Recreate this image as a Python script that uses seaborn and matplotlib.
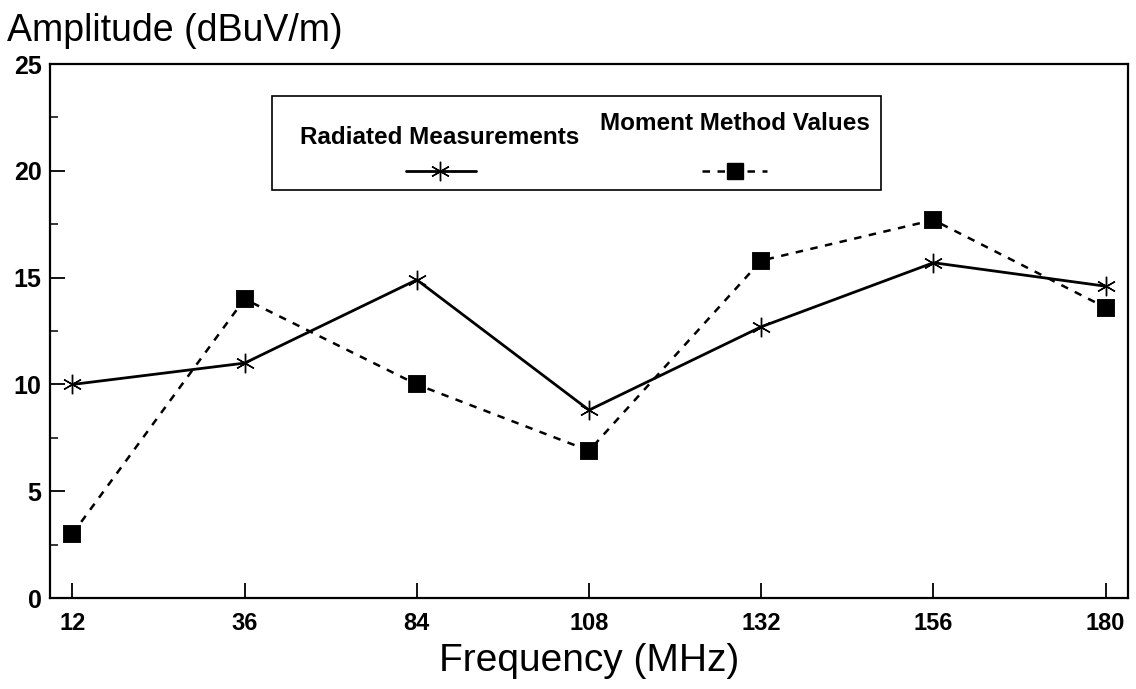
import pandas as pd
import matplotlib.pyplot as plt
import matplotlib.ticker as mticker
from matplotlib.lines import Line2D
from matplotlib.patches import Rectangle
import seaborn as sns

# Values
frequencies = ["12", "36", "84", "108", "132", "156", "180"]
radiated = [10.0, 11.0, 14.9, 8.8, 12.7, 15.7, 14.6]
moment = [3.0, 14.0, 10.0, 6.9, 15.8, 17.7, 13.6]
series_names = ["Radiated Measurements", "Moment Method Values"]

sns.set_theme(style="ticks")
plt.rcParams['font.family'] = ['Liberation Sans', 'DejaVu Sans']
plt.rcParams['text.color'] = 'black'

df = pd.DataFrame({
    'Frequency': frequencies * 2,
    'Amplitude': radiated + moment,
    'Series': [series_names[0]] * len(radiated) + [series_names[1]] * len(moment),
})

fig = plt.figure(figsize=(11.36, 6.89), dpi=100)
ax = fig.add_axes([0.044, 0.132, 0.949, 0.775])

star = (6, 2, 0)
star_size = 14
square_size = 12
sns.pointplot(data=df[df['Series'] == series_names[0]], x='Frequency', y='Amplitude',
              order=frequencies, color='black', marker=star, markersize=star_size,
              linestyle='-', linewidth=2.0, errorbar=None, ax=ax)
sns.pointplot(data=df[df['Series'] == series_names[1]], x='Frequency', y='Amplitude',
              order=frequencies, color='black', marker='s', markersize=square_size,
              linestyle=(0, (3, 3)), linewidth=1.8, errorbar=None, ax=ax)

# asterisks thinner strokes
for line in ax.lines:
    if line.get_marker() == star:
        line.set_markeredgewidth(1.0)

ax.set_xlim(-0.13, 6.13)
ax.set_ylim(0, 25)
ax.yaxis.set_major_locator(mticker.MultipleLocator(5))
ax.yaxis.set_minor_locator(mticker.MultipleLocator(2.5))
ax.tick_params(axis='both', which='major', direction='in', length=11, width=1.3,
               labelsize=17, colors='black')
ax.tick_params(axis='y', which='minor', direction='in', length=6, width=1.3)
ax.tick_params(axis='y', labelsize=18)
for lbl in ax.get_xticklabels() + ax.get_yticklabels():
    lbl.set_fontweight('bold')
ax.tick_params(axis='x', pad=10)
ax.tick_params(axis='y', pad=6)

for sp in ax.spines.values():
    sp.set_visible(True)
    sp.set_color('black')
    sp.set_linewidth(1.6)

ax.set_xlabel('Frequency (MHz)', fontsize=28, labelpad=6, color='black')
ax.set_ylabel('')
fig.text(0.006, 0.955, 'Amplitude (dBuV/m)', fontsize=27, ha='left', va='center',
         color='black')

# legend box: titles above their line samples
ax.add_patch(Rectangle((0.206, 0.765), 0.565, 0.176, transform=ax.transAxes,
                       fill=False, edgecolor='black', linewidth=1.2, zorder=5))
ax.text(0.361, 0.862, series_names[0], transform=ax.transAxes, fontsize=17.5,
        fontweight='bold', ha='center', va='center')
ax.text(0.635, 0.889, series_names[1], transform=ax.transAxes, fontsize=17.5,
        fontweight='bold', ha='center', va='center')
ax.add_line(Line2D([0.33, 0.395], [0.8, 0.8], transform=ax.transAxes, color='black',
                   linewidth=2.0))
ax.add_line(Line2D([0.362], [0.8], transform=ax.transAxes, color='black', marker=star,
                   markersize=star_size, markeredgewidth=1.0))
ax.add_line(Line2D([0.605, 0.665], [0.8, 0.8], transform=ax.transAxes, color='black',
                   linewidth=1.8, linestyle=(0, (3, 3))))
ax.add_line(Line2D([0.635], [0.8], transform=ax.transAxes, color='black', marker='s',
                   markersize=square_size))

fig.savefig('out.png', dpi=100, facecolor='white')
